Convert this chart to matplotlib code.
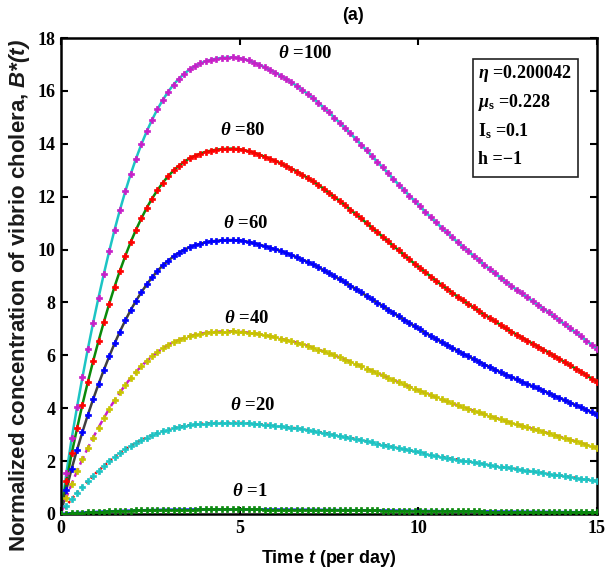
import matplotlib
matplotlib.use("Agg")
import matplotlib.pyplot as plt
import numpy as np
from matplotlib.patches import Rectangle

# time grid of the solver output (per day)
t = np.round(np.arange(101) * 0.15, 2)

# normalized vibrio concentration B*(t) for each theta
b_theta100 = [0.00, 1.54, 2.86, 4.05, 5.17, 6.23, 7.23, 8.18, 9.08, 9.94,
              10.75, 11.50, 12.20, 12.85, 13.44, 13.98, 14.47, 14.91, 15.31, 15.66,
              15.97, 16.24, 16.46, 16.65, 16.81, 16.94, 17.04, 17.12, 17.18, 17.22,
              17.25, 17.26, 17.27, 17.25, 17.21, 17.15, 17.07, 16.99, 16.89, 16.79,
              16.69, 16.58, 16.45, 16.32, 16.19, 16.04, 15.89, 15.73, 15.56, 15.37,
              15.19, 14.99, 14.80, 14.60, 14.39, 14.18, 13.97, 13.75, 13.54, 13.32,
              13.11, 12.89, 12.67, 12.46, 12.25, 12.04, 11.83, 11.63, 11.42, 11.22,
              11.03, 10.83, 10.65, 10.46, 10.28, 10.10, 9.93, 9.76, 9.59, 9.42,
              9.26, 9.10, 8.94, 8.78, 8.63, 8.48, 8.34, 8.19, 8.05, 7.91,
              7.77, 7.62, 7.47, 7.32, 7.17, 7.02, 6.87, 6.72, 6.56, 6.40,
              6.25]
b_theta80 = [0.00, 1.23, 2.29, 3.24, 4.14, 4.98, 5.78, 6.54, 7.26, 7.95,
             8.60, 9.20, 9.76, 10.28, 10.75, 11.18, 11.58, 11.93, 12.25, 12.53,
             12.78, 12.99, 13.17, 13.32, 13.45, 13.55, 13.63, 13.70, 13.74, 13.78,
             13.80, 13.81, 13.82, 13.80, 13.77, 13.72, 13.66, 13.59, 13.51, 13.43,
             13.35, 13.26, 13.16, 13.06, 12.95, 12.83, 12.71, 12.58, 12.45, 12.30,
             12.15, 11.99, 11.84, 11.68, 11.51, 11.34, 11.18, 11.00, 10.83, 10.66,
             10.49, 10.31, 10.14, 9.97, 9.80, 9.63, 9.46, 9.30, 9.14, 8.98,
             8.82, 8.66, 8.52, 8.37, 8.22, 8.08, 7.94, 7.81, 7.67, 7.54,
             7.41, 7.28, 7.15, 7.02, 6.90, 6.78, 6.67, 6.55, 6.44, 6.33,
             6.22, 6.10, 5.98, 5.86, 5.74, 5.62, 5.50, 5.38, 5.25, 5.12,
             5.00]
b_theta60 = [0.00, 0.92, 1.72, 2.43, 3.10, 3.74, 4.34, 4.91, 5.45, 5.96,
             6.45, 6.90, 7.32, 7.71, 8.06, 8.39, 8.68, 8.95, 9.19, 9.40,
             9.58, 9.74, 9.88, 9.99, 10.09, 10.16, 10.22, 10.27, 10.31, 10.33,
             10.35, 10.36, 10.36, 10.35, 10.33, 10.29, 10.24, 10.19, 10.13, 10.07,
             10.01, 9.95, 9.87, 9.79, 9.71, 9.62, 9.53, 9.44, 9.34, 9.22,
             9.11, 8.99, 8.88, 8.76, 8.63, 8.51, 8.38, 8.25, 8.12, 7.99,
             7.87, 7.73, 7.60, 7.48, 7.35, 7.22, 7.10, 6.98, 6.85, 6.73,
             6.62, 6.50, 6.39, 6.28, 6.17, 6.06, 5.96, 5.86, 5.75, 5.65,
             5.56, 5.46, 5.36, 5.27, 5.18, 5.09, 5.00, 4.91, 4.83, 4.75,
             4.66, 4.57, 4.48, 4.39, 4.30, 4.21, 4.12, 4.03, 3.94, 3.84,
             3.75]
b_theta40 = [0.00, 0.62, 1.14, 1.62, 2.07, 2.49, 2.89, 3.27, 3.63, 3.98,
             4.30, 4.60, 4.88, 5.14, 5.38, 5.59, 5.79, 5.96, 6.12, 6.26,
             6.39, 6.50, 6.58, 6.66, 6.72, 6.78, 6.82, 6.85, 6.87, 6.89,
             6.90, 6.90, 6.91, 6.90, 6.88, 6.86, 6.83, 6.80, 6.76, 6.72,
             6.68, 6.63, 6.58, 6.53, 6.48, 6.42, 6.36, 6.29, 6.22, 6.15,
             6.08, 6.00, 5.92, 5.84, 5.76, 5.67, 5.59, 5.50, 5.42, 5.33,
             5.24, 5.16, 5.07, 4.98, 4.90, 4.82, 4.73, 4.65, 4.57, 4.49,
             4.41, 4.33, 4.26, 4.18, 4.11, 4.04, 3.97, 3.90, 3.84, 3.77,
             3.70, 3.64, 3.58, 3.51, 3.45, 3.39, 3.34, 3.28, 3.22, 3.16,
             3.11, 3.05, 2.99, 2.93, 2.87, 2.81, 2.75, 2.69, 2.62, 2.56,
             2.50]
b_theta20 = [0.00, 0.31, 0.57, 0.81, 1.03, 1.25, 1.45, 1.64, 1.82, 1.99,
             2.15, 2.30, 2.44, 2.57, 2.69, 2.80, 2.89, 2.98, 3.06, 3.13,
             3.19, 3.25, 3.29, 3.33, 3.36, 3.39, 3.41, 3.42, 3.44, 3.44,
             3.45, 3.45, 3.45, 3.45, 3.44, 3.43, 3.41, 3.40, 3.38, 3.36,
             3.34, 3.32, 3.29, 3.26, 3.24, 3.21, 3.18, 3.15, 3.11, 3.07,
             3.04, 3.00, 2.96, 2.92, 2.88, 2.84, 2.79, 2.75, 2.71, 2.66,
             2.62, 2.58, 2.53, 2.49, 2.45, 2.41, 2.37, 2.33, 2.28, 2.24,
             2.21, 2.17, 2.13, 2.09, 2.06, 2.02, 1.99, 1.95, 1.92, 1.88,
             1.85, 1.82, 1.79, 1.76, 1.73, 1.70, 1.67, 1.64, 1.61, 1.58,
             1.55, 1.52, 1.49, 1.46, 1.43, 1.40, 1.37, 1.34, 1.31, 1.28,
             1.25]
b_theta1 = [0.000, 0.015, 0.029, 0.040, 0.052, 0.062, 0.072, 0.082, 0.091, 0.099,
            0.108, 0.115, 0.122, 0.128, 0.134, 0.140, 0.145, 0.149, 0.153, 0.157,
            0.160, 0.162, 0.165, 0.166, 0.168, 0.169, 0.170, 0.171, 0.172, 0.172,
            0.172, 0.173, 0.173, 0.172, 0.172, 0.172, 0.171, 0.170, 0.169, 0.168,
            0.167, 0.166, 0.164, 0.163, 0.162, 0.160, 0.159, 0.157, 0.156, 0.154,
            0.152, 0.150, 0.148, 0.146, 0.144, 0.142, 0.140, 0.138, 0.135, 0.133,
            0.131, 0.129, 0.127, 0.125, 0.122, 0.120, 0.118, 0.116, 0.114, 0.112,
            0.110, 0.108, 0.106, 0.105, 0.103, 0.101, 0.099, 0.098, 0.096, 0.094,
            0.093, 0.091, 0.089, 0.088, 0.086, 0.085, 0.083, 0.082, 0.080, 0.079,
            0.078, 0.076, 0.075, 0.073, 0.072, 0.070, 0.069, 0.067, 0.066, 0.064,
            0.062]

thetas = [100, 80, 60, 40, 20, 1]
series = [b_theta100, b_theta80, b_theta60, b_theta40, b_theta20, b_theta1]
param_lines = [r'$\eta$ =0.200042', r'$\mu_{\mathrm{s}}$ =0.228', r'I$_{\mathrm{s}}$ =0.1', 'h =\u22121']

plt.rcParams['mathtext.fontset'] = 'custom'
plt.rcParams['mathtext.rm'] = 'Liberation Serif:bold'
plt.rcParams['mathtext.it'] = 'Liberation Serif:italic:bold'
plt.rcParams['mathtext.bf'] = 'Liberation Serif:bold'
plt.rcParams['mathtext.sf'] = 'Liberation Sans:italic:bold'

line_col = ['#1cc4c4', '#0a8a0a', '#404040', '#c81ec8', '#ff0000', '#0000ff']
line_sty = ['-', '-', '-', '--', ':', '-']
mark_col = ['#c81ec8', '#ff0000', '#0000ff', '#c8c400', '#1cc4c4', '#0a8a0a']
lab_pos = [(6.84, 17.43), (5.08, 14.5), (5.16, 11.0), (5.19, 7.4), (5.35, 4.1), (5.29, 0.84)]

fig = plt.figure(figsize=(6.08, 5.75), dpi=100)
ax = fig.add_axes([0.1003, 0.1061, 0.8816, 0.8278])

for th, y, lc, ls, mc, lp in zip(thetas, series, line_col, line_sty, mark_col, lab_pos):
    ax.plot(t, y, color=lc, ls=ls, lw=1.8, zorder=2)
    ax.plot(t, y, ls='none', marker='P', ms=5, mfc=mc, mec=mc, mew=0.5, zorder=3)
    ax.text(lp[0], lp[1], r'$\theta$ =%d' % th, ha='center', va='center',
            family='Liberation Serif', fontweight='bold', fontsize=13.5)

ax.set_xlim(0, 15)
ax.set_ylim(0, 18)
ax.set_xticks([0, 5, 10, 15])
ax.set_yticks(range(0, 19, 2))
ax.tick_params(direction='in', length=5, width=1.5, top=True, right=True, pad=4)
for lab in ax.get_xticklabels() + ax.get_yticklabels():
    lab.set_family('Liberation Serif')
    lab.set_fontweight('bold')
    lab.set_fontsize(13)
for sp in ax.spines.values():
    sp.set_linewidth(1.8)

ax.set_xlabel(r'Time $\mathsf{t}$ (per day)', family='Liberation Sans', fontweight='bold', fontsize=13, labelpad=8)
ax.set_ylabel(r'Normalized concentration of vibrio cholera, $\mathsf{B{*}(t)}$',
              family='Liberation Sans', fontweight='bold', fontsize=16, color='#1a1a1a')
ax.yaxis.set_label_coords(-0.055, 0.46)
fig.text(0.58, 0.973, '(a)', family='Liberation Sans', fontweight='bold', fontsize=13, ha='center', va='center')

# parameter box
ax.add_patch(Rectangle((11.53, 12.74), 2.94, 4.46, fill=False, lw=1.2, ec='#222222', zorder=4))
for i, s in enumerate(param_lines):
    ax.text(11.67, 16.67 - i * 1.09, s, ha='left', va='center', family='Liberation Serif',
            fontweight='bold', fontsize=13, zorder=5)

fig.savefig('out.png')
